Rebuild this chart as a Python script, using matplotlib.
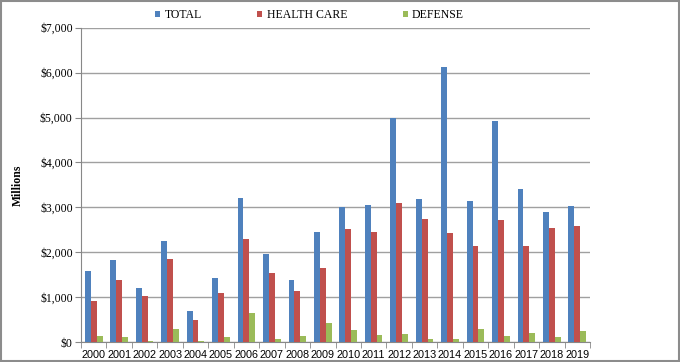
import matplotlib
matplotlib.use("Agg")
import matplotlib.pyplot as plt
import numpy as np
from matplotlib.patches import Rectangle

years = ["2000","2001","2002","2003","2004","2005","2006","2007","2008","2009",
         "2010","2011","2012","2013","2014","2015","2016","2017","2018","2019"]
total = [1580,1830,1210,2250,680,1430,3210,1970,1380,2460,
         3010,3060,5000,3180,6130,3140,4920,3410,2900,3040]
health = [920,1370,1030,1840,500,1100,2290,1540,1130,1640,
          2510,2440,3100,2730,2430,2130,2720,2140,2530,2590]
defense = [130,120,20,300,20,110,640,60,140,430,
           260,150,170,60,70,280,130,210,120,250]
yticks = [0,1000,2000,3000,4000,5000,6000,7000]
ytick_labels = ["$0","$1,000","$2,000","$3,000","$4,000","$5,000","$6,000","$7,000"]

fig = plt.figure(figsize=(6.8,3.62), dpi=100)
ax = fig.add_axes([81/680, 1-342/362, (590-81)/680, (342-27.7)/362])

x = np.arange(len(years))
w = 0.23
c_tot, c_hc, c_def = "#4F81BD", "#C0504D", "#9BBB59"
ax.bar(x-w, total, w, color=c_tot, label="TOTAL", zorder=3)
ax.bar(x, health, w, color=c_hc, label="HEALTH CARE", zorder=3)
ax.bar(x+w, defense, w, color=c_def, label="DEFENSE", zorder=3)

ax.set_xlim(-0.5, len(years)-0.5)
ax.set_ylim(0, 7000)
ax.set_yticks(yticks)
ax.set_yticklabels(ytick_labels, fontfamily="Liberation Serif", fontsize=8.5)
ax.yaxis.grid(True, color="#A0A0A0", linewidth=1, zorder=0)
ax.set_xticks(x)
ax.set_xticklabels(years, fontfamily="Liberation Sans", fontsize=7.8)
ax.set_xticks(np.arange(-0.5, len(years), 1), minor=True)
ax.tick_params(axis="x", which="major", length=0, pad=6)
ax.tick_params(axis="x", which="minor", length=4, color="#888888")
ax.tick_params(axis="y", length=4, color="#888888", pad=2)
for s in ["top","right"]:
    ax.spines[s].set_visible(False)
for s in ["left","bottom"]:
    ax.spines[s].set_color("#888888")

fig.text(18/680, 1-185/362, "Millions", rotation=90, fontfamily="Liberation Serif",
         fontweight="bold", fontsize=8.5, ha="center", va="center")

leg = fig.legend(loc="center left", bbox_to_anchor=(155/680, 1-15/362), ncol=3,
                 frameon=False, prop={"family":"Liberation Serif","size":8.5},
                 handlelength=0.45, handleheight=0.45, handletextpad=0.35,
                 columnspacing=4.7, borderaxespad=0, borderpad=0)

fig.patches.append(Rectangle((0.002,0.003),0.996,0.994, transform=fig.transFigure,
                             fill=False, edgecolor="#8C8C8C", linewidth=1.5))
fig.savefig("out.png", dpi=100)
